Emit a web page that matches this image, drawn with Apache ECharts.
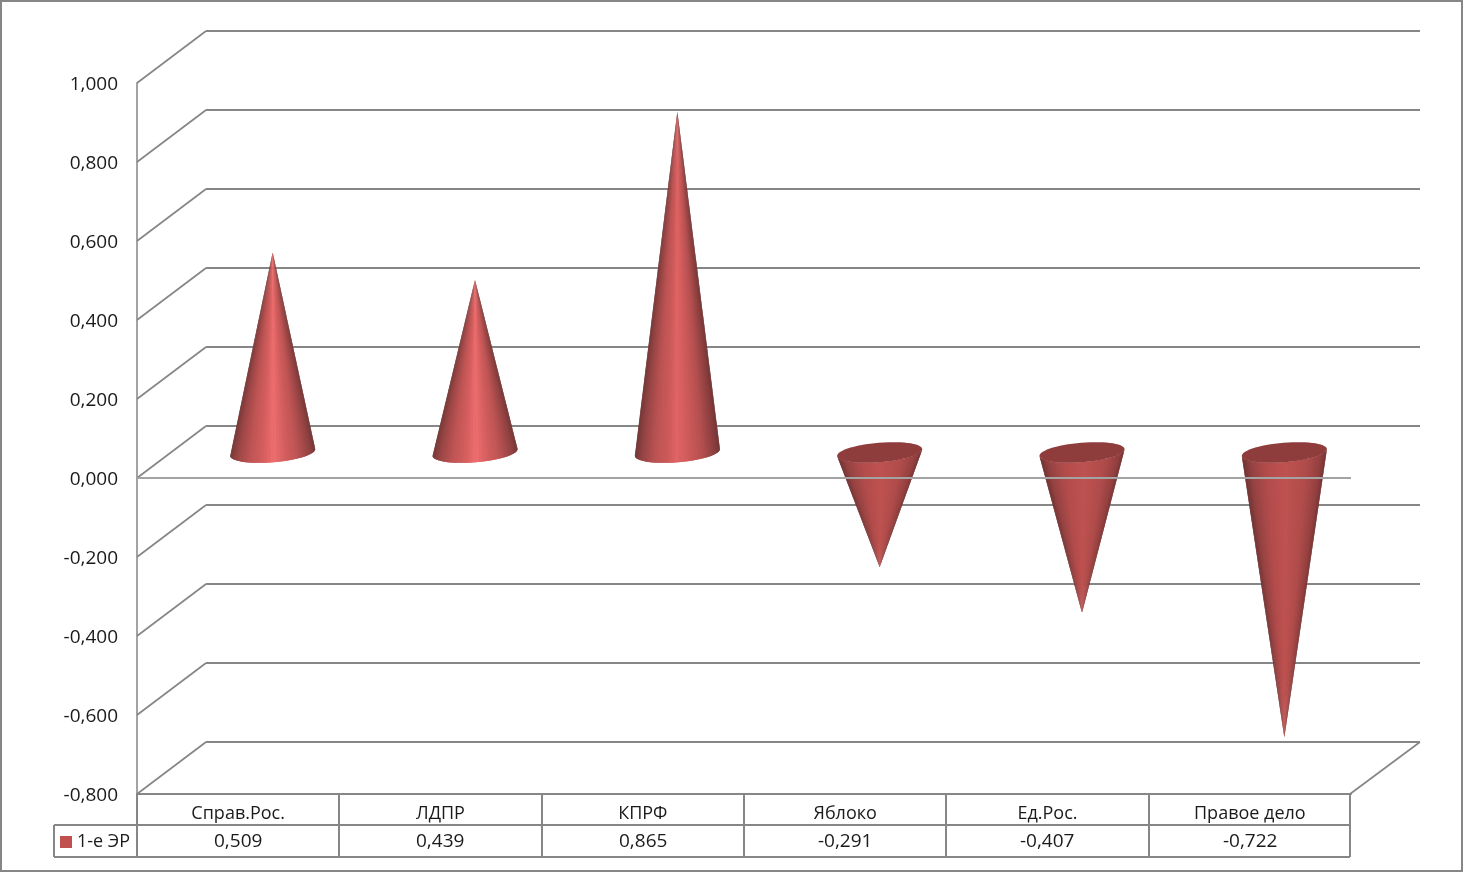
<!DOCTYPE html>
<html><head><meta charset="utf-8">
<style>html,body{margin:0;padding:0;background:#fff}#c{width:1464px;height:873px}</style>
<script src="https://cdn.jsdelivr.net/npm/echarts@6/dist/echarts.min.js"></script>
</head><body><div id="c"></div>
<script>
const categories = ['Справ.Рос.', 'ЛДПР', 'КПРФ', 'Яблоко', 'Ед.Рос.', 'Правое дело'];
const seriesName = '1-е ЭР';
const values = [0.509, 0.439, 0.865, -0.291, -0.407, -0.722];
const yTicks = [-0.8, -0.6, -0.4, -0.2, 0, 0.2, 0.4, 0.6, 0.8, 1];

const FONT = '"Open Sans", "Noto Sans", sans-serif';
const LINE = '#868686', LINE_LIGHT = '#a3a3a3', TEXT = '#1a1a1a';
const DX = 69, DY = -52;              // depth of the 3D box
const TILT = -4.7 * Math.PI / 180;    // tilt of cone base
const ROW1 = 31, ROW2 = 63;           // data table row lines below the floor
const fmt = v => v.toFixed(3).replace('.', ',');

const upStops = [[0, [120,58,58]], [0.08, [156,70,70]], [0.22, [190,84,84]], [0.38, [214,94,94]], [0.5, [238,110,110]], [0.62, [216,96,96]], [0.78, [190,84,84]], [0.92, [152,68,68]], [1, [118,56,56]]];
const topStops = [[0, [116,56,56]], [0.08, [150,68,68]], [0.22, [186,82,82]], [0.38, [206,90,90]], [0.48, [224,100,100]], [0.6, [210,92,92]], [0.78, [182,80,80]], [0.92, [144,64,64]], [1, [114,54,54]]];
const downStops = [[0, [112,52,52]], [0.1, [150,66,66]], [0.28, [178,76,75]], [0.5, [190,82,80]], [0.75, [176,76,75]], [0.92, [148,64,64]], [1, [116,52,52]]];
function shade(stops, s) {
  for (let i = 1; i < stops.length; i++) {
    if (s <= stops[i][0]) {
      const a = stops[i-1], b = stops[i], k = (s - a[0]) / (b[0] - a[0]);
      return 'rgb(' + a[1].map((c, j) => Math.round(c + (b[1][j] - c) * k)).join(',') + ')';
    }
  }
  return 'rgb(' + stops[stops.length-1][1].join(',') + ')';
}
function ellipsePt(c, rx, ry, t) {
  const x = rx * Math.cos(t), y = ry * Math.sin(t);
  return [c[0] + x * Math.cos(TILT) - y * Math.sin(TILT), c[1] + x * Math.sin(TILT) + y * Math.cos(TILT)];
}
function renderCone(params, api) {
  const idx = api.value(0), v = api.value(1);
  const band = api.size([1, 0])[0];
  const base = api.coord([idx, 0]), top = api.coord([idx, v]);
  const c = [base[0] + DX / 2, base[1] + DY / 2 + 0.5];
  const tip = [top[0] + DX / 2, top[1] + DY / 2 + (v > 0 ? 1.5 : 0)];
  const rx = band * 0.211, ry = 9.8;
  const stops = v < 0 ? downStops : (v > 0.7 ? topStops : upStops);
  const children = [];
  const N = 40;
  // facets painted left to right; each reaches under the next one so no seams show
  for (let i = 0; i < N; i++) {
    const t0 = Math.PI - Math.PI * i / N, t1 = Math.PI - Math.PI * Math.min(i + 2, N) / N;
    const tm = Math.PI - Math.PI * (i + 0.5) / N;
    const col = shade(stops, (1 + Math.cos(tm)) / 2);
    children.push({ type: 'polygon',
      shape: { points: [tip, ellipsePt(c, rx, ry, t0), ellipsePt(c, rx, ry, t1)] },
      style: { fill: col } });
  }
  if (v < 0) {
    const pts = [];
    for (let i = 0; i < 60; i++) pts.push(ellipsePt(c, rx, ry, i / 60 * Math.PI * 2));
    children.push({ type: 'polygon', shape: { points: pts }, style: { fill: '#8f3d3c' } });
  }
  return { type: 'group', children };
}
function plotBox(api) {
  const band = api.size([1, 0])[0];
  const left = api.coord([0, 0])[0] - band / 2;
  return { band, left, right: left + band * categories.length, bottom: api.coord([0, yTicks[0]])[1] };
}
function renderWall(params, api) {
  const v = api.value(0), b = plotBox(api), y = api.coord([0, v])[1];
  const yb = Math.round(y + DY);
  const children = [
    { type: 'line', shape: { x1: b.left, y1: y, x2: b.left + DX, y2: yb }, style: { stroke: LINE, lineWidth: 1.7 } },
    { type: 'line', shape: { x1: b.left + DX, y1: yb, x2: b.right + DX, y2: yb }, style: { stroke: LINE, lineWidth: 2 } }
  ];
  if (v === yTicks[0]) children.push({ type: 'line', shape: { x1: b.right - 1, y1: y, x2: b.right + DX, y2: yb }, style: { stroke: LINE, lineWidth: 1.7 } });
  return { type: 'group', children };
}
function renderZero(params, api) {
  const b = plotBox(api), y = Math.round(api.coord([0, 0])[1]);
  return { type: 'line', shape: { x1: b.left, y1: y, x2: b.right, y2: y }, style: { stroke: LINE_LIGHT, lineWidth: 2 } };
}
function renderTable(params, api) {
  const i = api.value(0), b = plotBox(api);
  const x0 = Math.round(b.left + i * b.band), x1 = Math.round(b.left + (i + 1) * b.band) - (i === categories.length - 1 ? 1 : 0), y0 = b.bottom;
  const cx = x0 + b.band / 2;
  const ch = [];
  ch.push({ type: 'line', shape: { x1: x1, y1: y0, x2: x1, y2: y0 + ROW2 }, style: { stroke: LINE, lineWidth: 2 } });
  ch.push({ type: 'line', shape: { x1: x0, y1: y0 + ROW1, x2: x1, y2: y0 + ROW1 }, style: { stroke: LINE, lineWidth: 2 } });
  ch.push({ type: 'line', shape: { x1: x0, y1: y0 + ROW2, x2: x1, y2: y0 + ROW2 }, style: { stroke: LINE, lineWidth: 2 } });
  ch.push({ type: 'text', style: { text: fmt(api.value(1)), x: cx, y: y0 + (ROW1 + ROW2) / 2 + 1, align: 'center', verticalAlign: 'middle', font: '19px ' + FONT, fill: TEXT } });
  if (i === 0) {
    const L = x0 - 83;
    ch.push({ type: 'line', shape: { x1: x0, y1: y0, x2: x0, y2: y0 + ROW2 }, style: { stroke: LINE, lineWidth: 2 } });
    ch.push({ type: 'line', shape: { x1: L, y1: y0 + ROW1, x2: x0, y2: y0 + ROW1 }, style: { stroke: LINE, lineWidth: 2 } });
    ch.push({ type: 'line', shape: { x1: L, y1: y0 + ROW2, x2: x0, y2: y0 + ROW2 }, style: { stroke: LINE, lineWidth: 2 } });
    ch.push({ type: 'line', shape: { x1: L, y1: y0 + ROW1, x2: L, y2: y0 + ROW2 }, style: { stroke: LINE, lineWidth: 2 } });
  }
  return { type: 'group', children: ch };
}

const chart = echarts.init(document.getElementById('c'), null, { renderer: 'canvas' });
chart.setOption({
  animation: false,
  backgroundColor: '#fff',
  textStyle: { fontFamily: FONT },
  graphic: [{ type: 'rect', shape: { x: 1, y: 1, width: 1461, height: 870 }, style: { fill: 'none', stroke: LINE, lineWidth: 2 }, z: 100 }],
  grid: { left: 137, top: 83, width: 1214, height: 711, containLabel: false },
  legend: { data: [{ name: seriesName, icon: 'rect' }], left: 57, top: 833, itemWidth: 12, itemHeight: 12, itemGap: 5, padding: [0, 0, 0, 3],
    selectedMode: false, textStyle: { fontSize: 18, color: TEXT, fontFamily: FONT } },
  xAxis: { type: 'category', data: categories, position: 'bottom',
    axisLine: { onZero: false, lineStyle: { color: LINE, width: 2 } }, axisTick: { show: false }, splitLine: { show: false },
    axisLabel: { color: TEXT, fontSize: 18, margin: 11, interval: 0, fontFamily: FONT } },
  yAxis: { type: 'value', min: yTicks[0], max: yTicks[yTicks.length - 1], interval: 0.2,
    axisLine: { show: true, lineStyle: { color: LINE_LIGHT, width: 2 } }, axisTick: { show: false }, splitLine: { show: false },
    axisLabel: { color: TEXT, fontSize: 19, margin: 19, fontFamily: FONT, verticalAlign: 'top', lineHeight: 4, formatter: fmt } },
  series: [
    { type: 'custom', name: 'walls', silent: true, z: 1, clip: false, renderItem: renderWall, data: yTicks.map(v => [v]), encode: { y: 0 } },
    { type: 'custom', name: seriesName, z: 3, clip: false, itemStyle: { color: '#c0504d' }, renderItem: renderCone, data: values.map((v, i) => [i, v]), encode: { x: 0, y: 1 } },
    { type: 'custom', name: 'zero', silent: true, z: 4, clip: false, renderItem: renderZero, data: [[0]] },
    { type: 'custom', name: 'table', silent: true, z: 5, clip: false, renderItem: renderTable, data: values.map((v, i) => [i, v]), encode: { x: 0, y: 1 } }
  ]
});
</script></body></html>
